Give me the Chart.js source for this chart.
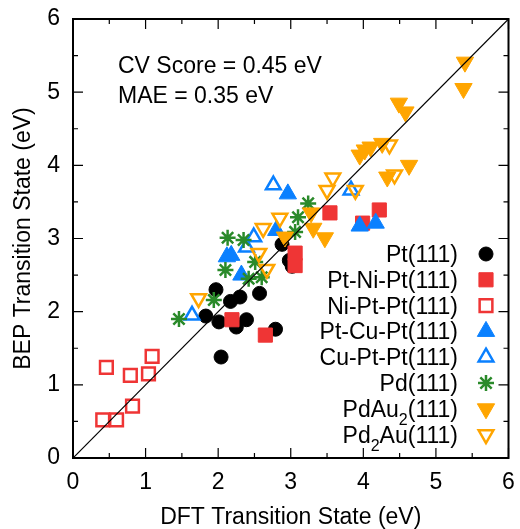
<!DOCTYPE html>
<html>
<head>
<meta charset="utf-8">
<script src="https://cdn.jsdelivr.net/npm/chart.js@4/dist/chart.umd.min.js"></script>
<style>
  html, body { margin: 0; padding: 0; background: #fff; }
  #wrap { position: relative; width: 520px; height: 529px; }
</style>
</head>
<body>
<div id="wrap"><canvas id="c"></canvas></div>
<script>
// ---------- data ----------
const axisMin = 0;
const axisMax = 6;
const majorStep = 1;
const minorStep = 0.5;

const ptX = [1.97, 2.17, 2.30, 2.57, 1.83, 2.01, 2.25, 2.39, 2.79, 2.04, 2.88, 2.98, 3.02];
const ptY = [2.30, 2.14, 2.20, 2.25, 1.94, 1.86, 1.79, 1.89, 1.76, 1.38, 2.92, 2.70, 2.62];

const ptNiPtX = [2.19, 2.65, 3.06, 3.06, 3.54, 3.99, 4.22];
const ptNiPtY = [1.89, 1.68, 2.80, 2.63, 3.35, 3.21, 3.39];

const niPtPtX = [0.46, 1.09, 0.79, 1.04, 0.82, 0.41, 0.60];
const niPtPtY = [1.24, 1.39, 1.13, 1.15, 0.71, 0.52, 0.52];

const ptCuPtX = [2.96, 2.12, 2.18, 2.32, 2.80, 3.95, 4.17];
const ptCuPtY = [3.61, 2.75, 2.77, 2.50, 3.11, 3.17, 3.21];

const cuPtPtX = [2.76, 2.49, 2.39, 3.83, 1.64];
const cuPtPtY = [3.73, 3.02, 2.88, 3.66, 1.95];

const pdX = [1.46, 1.94, 2.10, 2.13, 2.35, 2.51, 2.42, 2.60, 3.06, 3.10, 3.24];
const pdY = [1.90, 2.16, 2.57, 3.01, 2.98, 2.68, 2.45, 2.47, 3.09, 3.29, 3.48];

const pdAu2X = [5.40, 5.38, 4.49, 4.58, 3.95, 4.02, 4.10, 4.26, 4.63, 4.33, 2.92, 3.28, 3.31, 3.47];
const pdAu2Y = [5.41, 5.05, 4.85, 4.73, 4.14, 4.21, 4.25, 4.30, 4.00, 3.84, 3.02, 3.35, 3.14, 3.01];

const pd2AuX = [4.36, 4.43, 3.58, 3.50, 3.89, 2.85, 2.62, 2.56, 2.67, 1.73];
const pd2AuY = [4.28, 3.87, 3.83, 3.66, 3.66, 3.28, 3.14, 2.80, 2.58, 2.18];

const parityX = [0, 6];
const parityY = [0, 6];

const seriesNames = ['Pt(111)', 'Pt-Ni-Pt(111)', 'Ni-Pt-Pt(111)', 'Pt-Cu-Pt(111)',
                     'Cu-Pt-Pt(111)', 'Pd(111)', 'PdAu2(111)', 'Pd2Au(111)'];
const statLines = ['CV Score = 0.45 eV', 'MAE = 0.35 eV'];
const xTitle = 'DFT Transition State (eV)';
const yTitle = 'BEP Transition State (eV)';

// ---------- styles ----------
const FONT = "'Liberation Sans', Arial, Helvetica, sans-serif";
const RED = '#ef3535', BLUE = '#0a80ff', GREEN = '#2a8a2a', ORANGE = '#ffa500';

function pts(xs, ys) { return xs.map((v, i) => ({x: v, y: ys[i]})); }

const styles = [
  {style: 'circle',   r: 7,   rot: 0,   fill: '#000', stroke: '#000', bw: 1,   open: false},
  {style: 'rect',     r: 10,  rot: 0,   fill: RED,    stroke: RED,    bw: 1,   open: false},
  {style: 'rect',     r: 9,   rot: 0,   fill: 'rgba(0,0,0,0)', stroke: RED, bw: 2.5, open: true},
  {style: 'triangle', r: 10,  rot: 0,   fill: BLUE,   stroke: BLUE,   bw: 1,   open: false},
  {style: 'triangle', r: 8.5, rot: 0,   fill: 'rgba(0,0,0,0)', stroke: BLUE, bw: 2.5, open: true},
  {style: 'star',     r: 8,   rot: 0,   fill: GREEN,  stroke: GREEN,  bw: 2.5, open: false},
  {style: 'triangle', r: 10,  rot: 180, fill: ORANGE, stroke: ORANGE, bw: 1,   open: false},
  {style: 'triangle', r: 8.5, rot: 180, fill: 'rgba(0,0,0,0)', stroke: ORANGE, bw: 2.5, open: true}
];

const seriesData = [
  pts(ptX, ptY), pts(ptNiPtX, ptNiPtY), pts(niPtPtX, niPtPtY), pts(ptCuPtX, ptCuPtY),
  pts(cuPtPtX, cuPtPtY), pts(pdX, pdY), pts(pdAu2X, pdAu2Y), pts(pd2AuX, pd2AuY)
];

const datasets = seriesData.map((d, i) => ({
  label: seriesNames[i],
  data: d,
  order: 10 - i,
  pointStyle: styles[i].style,
  pointRadius: styles[i].r,
  pointHoverRadius: styles[i].r,
  pointRotation: styles[i].rot,
  backgroundColor: styles[i].fill,
  borderColor: styles[i].stroke,
  pointBorderWidth: styles[i].bw,
  borderWidth: styles[i].bw,
  showLine: false
}));
datasets.push({
  type: 'line',
  label: 'parity',
  data: pts(parityX, parityY),
  order: 0,
  borderColor: '#000',
  borderWidth: 1.2,
  pointRadius: 0,
  showLine: true,
  fill: false
});

// legend marker drawing (same geometry as Chart.js point styles)
function drawMarker(ctx, s, x, y) {
  ctx.save();
  ctx.fillStyle = s.fill;
  ctx.strokeStyle = s.stroke;
  ctx.lineWidth = s.bw;
  ctx.beginPath();
  if (Chart.helpers && Chart.helpers.drawPoint) {
    Chart.helpers.drawPoint(ctx, {pointStyle: s.style, radius: s.r, rotation: s.rot, borderWidth: s.bw}, x, y);
  }
  ctx.restore();
}

function drawSubLabel(ctx, parts, xRight, y) {
  const big = '23px ' + FONT, small = '16px ' + FONT;
  let w = 0;
  parts.forEach(p => { ctx.font = p.sub ? small : big; p.w = ctx.measureText(p.t).width; w += p.w; });
  let x = xRight - w;
  ctx.textAlign = 'left';
  parts.forEach(p => {
    ctx.font = p.sub ? small : big;
    ctx.fillText(p.t, x, p.sub ? y + 8 : y);
    x += p.w;
  });
}

const decor = {
  id: 'decor',
  afterDraw(chart) {
    const {ctx, chartArea: {left, right, top, bottom}, scales: {x, y}} = chart;
    ctx.save();
    // inward ticks on all four sides
    ctx.strokeStyle = '#000';
    ctx.lineWidth = 1.2;
    ctx.beginPath();
    for (let v = axisMin; v <= axisMax + 1e-9; v += minorStep) {
      const len = Math.abs(v / majorStep - Math.round(v / majorStep)) < 1e-9 ? 10 : 5;
      const px = x.getPixelForValue(v);
      const py = y.getPixelForValue(v);
      ctx.moveTo(px, bottom); ctx.lineTo(px, bottom - len);
      ctx.moveTo(px, top); ctx.lineTo(px, top + len);
      ctx.moveTo(left, py); ctx.lineTo(left + len, py);
      ctx.moveTo(right, py); ctx.lineTo(right - len, py);
    }
    ctx.stroke();
    // frame
    ctx.lineWidth = 2;
    ctx.strokeRect(left, top, right - left, bottom - top);

    // statistics text
    ctx.fillStyle = '#000';
    ctx.font = '23px ' + FONT;
    ctx.textAlign = 'left';
    ctx.textBaseline = 'alphabetic';
    ctx.fillText(statLines[0], 118, 72.5);
    ctx.fillText(statLines[1], 118, 102.5);

    // legend
    const textRight = 458, markX = 486, y0 = 262, dy = 25.8;
    seriesNames.forEach((name, i) => {
      const yy = y0 + i * dy;
      ctx.fillStyle = '#000';
      ctx.textBaseline = 'alphabetic';
      if (name.startsWith('PdAu2') || name.startsWith('Pd2Au')) {
        const idx = name.indexOf('2');
        drawSubLabel(ctx, [{t: name.slice(0, idx)}, {t: '2', sub: true}, {t: name.slice(idx + 1)}], textRight, yy);
      } else {
        ctx.font = '23px ' + FONT;
        ctx.textAlign = 'right';
        ctx.fillText(name, textRight, yy);
      }
      drawMarker(ctx, styles[i], markX, yy - 8);
    });
    ctx.restore();
  }
};

function noPad(s) { s.paddingLeft = 0; s.paddingRight = 0; s.paddingTop = 0; s.paddingBottom = 0; }

new Chart(document.getElementById('c'), {
  type: 'scatter',
  data: {datasets},
  options: {
    responsive: true,
    maintainAspectRatio: false,
    animation: false,
    events: [],
    layout: {padding: {top: 19, right: 8, left: 0, bottom: 0}},
    plugins: {legend: {display: false}, tooltip: {enabled: false}},
    scales: {
      x: {
        type: 'linear', min: axisMin, max: axisMax,
        afterFit(s) { s.height = 71; noPad(s); },
        grid: {display: false, drawTicks: false},
        border: {display: false},
        ticks: {stepSize: majorStep, padding: 11, color: '#000', font: {family: FONT, size: 23}},
        title: {display: true, text: xTitle, color: '#000', font: {family: FONT, size: 23, lineHeight: 1}, padding: {top: 0, bottom: 0}}
      },
      y: {
        type: 'linear', min: axisMin, max: axisMax,
        afterFit(s) { s.width = 73; noPad(s); },
        grid: {display: false, drawTicks: false},
        border: {display: false},
        ticks: {stepSize: majorStep, padding: 13, color: '#000', font: {family: FONT, size: 23}},
        title: {display: true, text: yTitle, color: '#000', font: {family: FONT, size: 23, lineHeight: 1}, padding: {top: 12, bottom: 0}}
      }
    }
  },
  plugins: [decor]
});
</script>
</body>
</html>
